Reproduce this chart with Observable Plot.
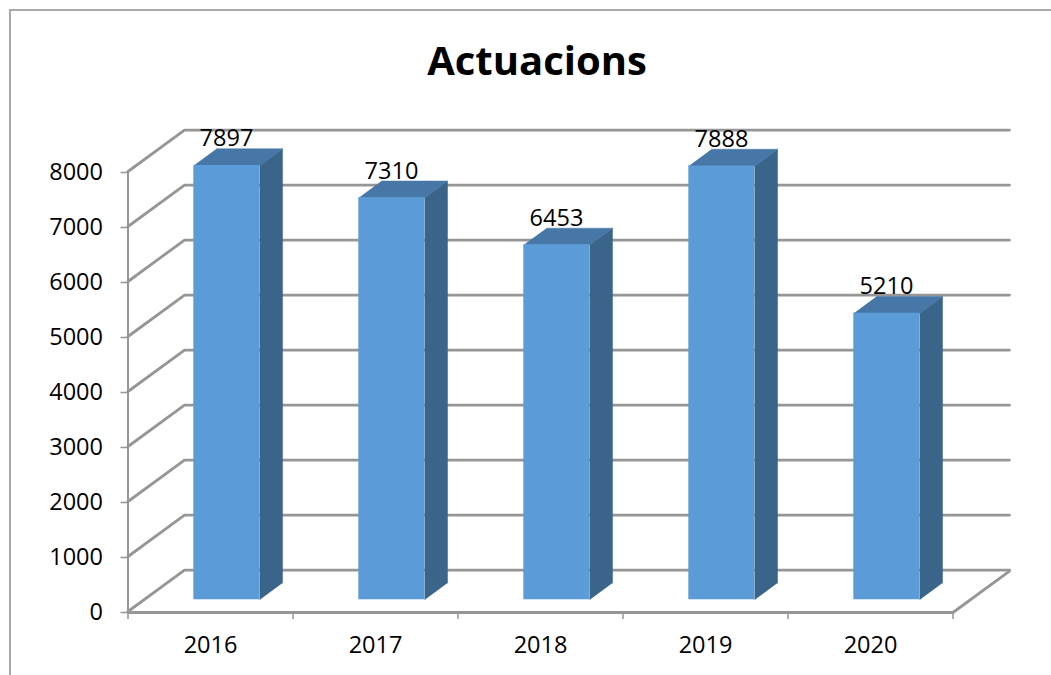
<!DOCTYPE html>
<html>
<head>
<meta charset="utf-8">
<script src="https://cdn.jsdelivr.net/npm/d3@7"></script>
<script src="https://cdn.jsdelivr.net/npm/@observablehq/plot@0.6"></script>
<style>
  html, body { margin: 0; padding: 0; width: 1051px; height: 675px; overflow: hidden; background: #fff; }
  body { position: relative; font-family: "Open Sans", sans-serif; }
  #border { position: absolute; left: 9px; top: 9px; width: 1200px; height: 800px; border: 2px solid #a9a9a9; box-sizing: border-box; pointer-events: none; }
  #title { position: relative; height: 110px; width: 1074px; text-align: center; font-size: 40px; font-weight: 700; line-height: 104px; padding-top: 8px; box-sizing: border-box; color: #000; }
  #chart svg { display: block; }
</style>
</head>
<body>
<div id="border"></div>
<div id="title">Actuacions</div>
<div id="chart"></div>
<script>
const years = ["2016", "2017", "2018", "2019", "2020"];
const values = [7897, 7310, 6453, 7888, 5210];
const tickValues = [0, 1000, 2000, 3000, 4000, 5000, 6000, 7000, 8000];
const categoryBounds = [0, 1, 2, 3, 4, 5];

// Oblique projection of the depth axis, expressed in scale units
const depthX = 0.3424;
const depthY = 754;
const barStart = 0.302, barEnd = 0.702;
const zFront = 0.283, zBack = 0.685;
const project = (i, v, z) => ({ x: i + z * depthX, y: v + z * depthY });

const barFronts = values.map((v, i) => {
  const a = project(i + barStart, 0, zFront), b = project(i + barEnd, v, zFront);
  return { x1: a.x, x2: b.x, y1: a.y, y2: b.y };
});
const barSides = values.flatMap((v, i) => [
  [barEnd, 0, zFront], [barEnd, v, zFront], [barEnd, v, zBack], [barEnd, 0, zBack]
].map(([o, w, z]) => ({ id: i, ...project(i + o, w, z) })));
const barTops = values.flatMap((v, i) => [
  [barStart, zFront], [barEnd, zFront], [barEnd, zBack], [barStart, zBack]
].map(([o, z]) => ({ id: i, ...project(i + o, v, z) })));
const wallLines = tickValues.flatMap(v => [
  { id: v, ...project(0, v, 0) },
  { id: v, ...project(0, v, 1) },
  { id: v, ...project(5, v, 1) }
]);
const floorEdge = [project(0, 0, 0), project(5, 0, 0), project(5, 0, 1)];
const labels = values.map((v, i) => ({ text: String(v), ...project(i + 0.5, v, zFront) }));

const gray = "#969696";
const svg = Plot.plot({
  width: 1051,
  height: 565,
  marginLeft: 127.5,
  marginRight: 98.5,
  marginTop: 61,
  marginBottom: 64,
  x: { domain: [0, 5] },
  y: { domain: [0, 8000] },
  style: { fontFamily: "'Open Sans', sans-serif", fontSize: "23.5px", color: "#000", background: "transparent", overflow: "visible" },
  marks: [
    Plot.line(wallLines, { x: "x", y: "y", z: "id", stroke: gray, strokeWidth: 2.8, strokeLinejoin: "miter" }),
    Plot.line(floorEdge, { x: "x", y: "y", stroke: gray, strokeWidth: 2.8, dy: 1 }),
    Plot.ruleX([0], { y1: 0, y2: 8000, stroke: gray, strokeWidth: 2 }),
    Plot.axisY({
      ticks: tickValues, tickFormat: d => String(d), tickSize: 7, tickPadding: 18,
      stroke: gray, strokeWidth: 1.5, fill: "#000", fontSize: 23.5, label: null, dy: 1
    }),
    Plot.axisX({
      ticks: categoryBounds, tickFormat: () => "", tickSize: 7, tickPadding: 0,
      stroke: gray, strokeWidth: 1.5, label: null, dy: 1
    }),
    Plot.axisX({
      ticks: years.map((_, i) => i + 0.5), tickFormat: d => years[d - 0.5], tickSize: 0, tickPadding: 25,
      fill: "#000", fontSize: 23.5, label: null
    }),
    Plot.line(barSides, { x: "x", y: "y", z: "id", fill: "#3A6489", stroke: "#3A6489", strokeWidth: 0.5 }),
    Plot.line(barTops, { x: "x", y: "y", z: "id", fill: "#4677A6", stroke: "#4677A6", strokeWidth: 0.5 }),
    Plot.rect(barFronts, { x1: "x1", x2: "x2", y1: "y1", y2: "y2", fill: "#5B9BD7", inset: 0 }),
    Plot.text(labels, { x: "x", y: "y", text: "text", dy: -26.5, fontSize: 23.5, fill: "#000" })
  ]
});
document.getElementById("chart").appendChild(svg);
</script>
</body>
</html>
